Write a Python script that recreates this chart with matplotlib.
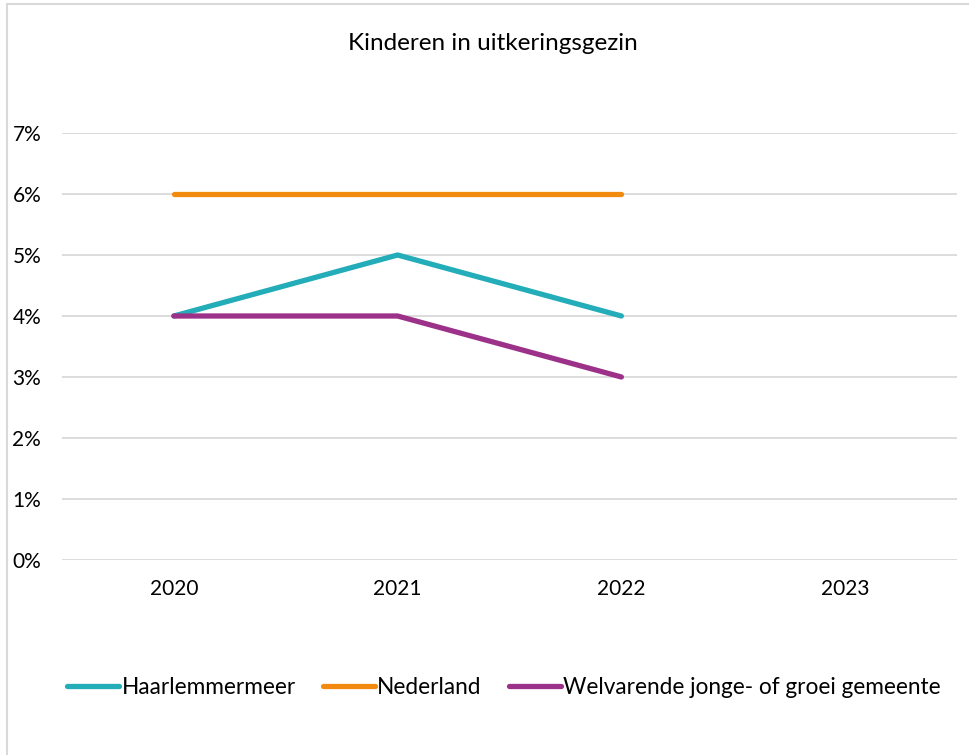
import matplotlib.pyplot as plt
from matplotlib.patches import Rectangle
from matplotlib.ticker import PercentFormatter

years = ['2020', '2021', '2022', '2023']
haarlemmermeer = [0.04, 0.05, 0.04]
nederland = [0.06, 0.06, 0.06]
welvarend = [0.04, 0.04, 0.03]

plt.rcParams['font.family'] = ['Lato', 'DejaVu Sans']

fig = plt.figure(figsize=(9.7, 7.55), dpi=100)
ax = fig.add_axes([62 / 970, 1 - 560 / 755, 895 / 970, (560 - 133) / 755])

# chart border (cut off on the right and bottom in the original)
fig.patches.append(Rectangle((7 / 970, -0.1), 1.2, 1 - 4 / 755 + 0.1,
                             transform=fig.transFigure, fill=False,
                             edgecolor='#D9D9D9', linewidth=1.5))

x = range(len(haarlemmermeer))
kw = dict(linewidth=3.8, solid_capstyle='round')
ax.plot(x, haarlemmermeer, color='#23ADB9', label='Haarlemmermeer', **kw)
ax.plot(x, nederland, color='#F28A10', label='Nederland', **kw)
ax.plot(x, welvarend, color='#9C3189', label='Welvarende jonge- of groei gemeente', **kw)

ax.set_xlim(-0.5, len(years) - 0.5)
ax.set_ylim(0, 0.07)
ax.set_xticks(range(len(years)))
ax.set_xticklabels(years)
ax.set_yticks([i / 100 for i in range(8)])
ax.yaxis.set_major_formatter(PercentFormatter(1.0, decimals=0))
ax.tick_params(length=0, labelsize=15, colors='#000000')
ax.tick_params(axis='y', pad=15)
ax.tick_params(axis='x', pad=14)
ax.grid(axis='y', color='#D9D9D9', linewidth=1.3)
ax.set_axisbelow(True)
for s in ax.spines.values():
    s.set_visible(False)

fig.text(493 / 970, 1 - 43 / 755, 'Kinderen in uitkeringsgezin', ha='center',
         va='center', fontsize=17.5)

fig.legend(loc='center', bbox_to_anchor=(504 / 970, 1 - 687 / 755), ncol=3,
           frameon=False, fontsize=16.3, handlelength=2.3, handletextpad=0.1,
           columnspacing=1.2)

fig.savefig('out.png', dpi=100)
